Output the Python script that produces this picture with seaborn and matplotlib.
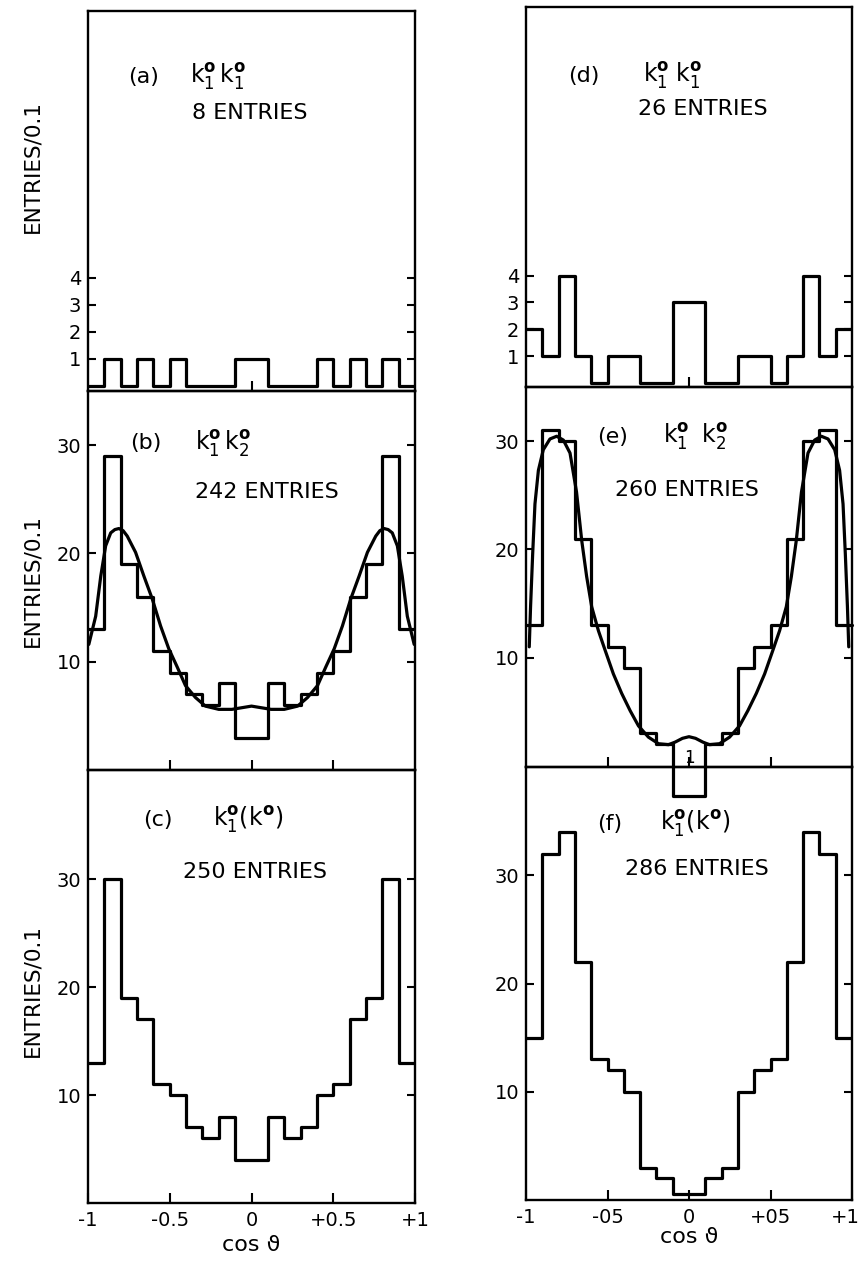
import numpy as np
import pandas as pd
import matplotlib
matplotlib.use("Agg")
import matplotlib.pyplot as plt
import matplotlib.transforms as mtransforms
import seaborn as sns

# ---------------- data ----------------
bin_edges = [round(-1.0 + 0.1 * k, 2) for k in range(21)]
bin_centers = [round(-0.95 + 0.1 * k, 2) for k in range(20)]

counts_a = [0, 1, 0, 1, 0, 1, 0, 0, 0, 1, 1, 0, 0, 0, 1, 0, 1, 0, 1, 0]
counts_b = [13, 29, 19, 16, 11, 9, 7, 6, 8, 3, 3, 8, 6, 7, 9, 11, 16, 19, 29, 13]
counts_c = [13, 30, 19, 17, 11, 10, 7, 6, 8, 4, 4, 8, 6, 7, 10, 11, 17, 19, 30, 13]
counts_d = [2, 1, 4, 1, 0, 1, 1, 0, 0, 3, 3, 0, 0, 1, 1, 0, 1, 4, 1, 2]
counts_e = [13, 31, 30, 21, 13, 11, 9, 3, 2, -2.8, -2.8, 2, 3, 9, 11, 13, 21, 30, 31, 13]
counts_f = [15, 32, 34, 22, 13, 12, 10, 3, 2, 0.6, 0.6, 2, 3, 10, 12, 13, 22, 34, 32, 15]

fit_b_x = [-0.995, -0.953, -0.922, -0.892, -0.861, -0.836, -0.811, -0.785, -0.760,
           -0.709, -0.658, -0.607, -0.556, -0.506, -0.454, -0.404, -0.343, -0.282,
           -0.20, -0.12, -0.04, 0.0, 0.04, 0.12, 0.20, 0.282, 0.343, 0.404, 0.454,
           0.506, 0.556, 0.607, 0.658, 0.709, 0.760, 0.785, 0.811, 0.836, 0.861,
           0.892, 0.922, 0.953, 0.995]
fit_b_y = [11.6, 14.2, 17.9, 20.7, 21.9, 22.2, 22.3, 22.1, 21.6,
           20.1, 17.9, 15.8, 13.3, 11.2, 9.5, 7.8, 6.7, 5.9,
           5.6, 5.6, 5.8, 5.9, 5.8, 5.6, 5.6, 5.9, 6.7, 7.8, 9.5,
           11.2, 13.3, 15.8, 17.9, 20.1, 21.6, 22.1, 22.3, 22.2, 21.9,
           20.7, 17.9, 14.2, 11.6]

fit_e_x = [-0.980, -0.972, -0.959, -0.945, -0.924, -0.894, -0.853, -0.812, -0.771,
           -0.730, -0.690, -0.658, -0.628, -0.597, -0.556, -0.515, -0.464, -0.413,
           -0.361, -0.310, -0.249, -0.187, -0.126, -0.085, -0.040, 0.0,
           0.040, 0.085, 0.126, 0.187, 0.249, 0.310, 0.361, 0.413, 0.464, 0.515,
           0.556, 0.597, 0.628, 0.658, 0.690, 0.730, 0.771, 0.812, 0.853, 0.894,
           0.924, 0.945, 0.959, 0.972, 0.980]
fit_e_y = [11.0, 14.7, 19.6, 24.2, 27.3, 29.2, 30.2, 30.45, 30.1,
           28.9, 25.3, 20.8, 17.5, 14.7, 12.5, 10.7, 8.5, 6.7,
           5.1, 3.7, 2.66, 2.05, 1.96, 2.2, 2.55, 2.7,
           2.55, 2.2, 1.96, 2.05, 2.66, 3.7, 5.1, 6.7, 8.5, 10.7,
           12.5, 14.7, 17.5, 20.8, 25.3, 28.9, 30.1, 30.45, 30.2, 29.2,
           27.3, 24.2, 19.6, 14.7, 11.0]

panel_tags = ["(a)", "(b)", "(c)", "(d)", "(e)", "(f)"]
panel_states = [r"$\mathrm{k}_{1}^{\mathbf{o}}\,\mathrm{k}_{1}^{\mathbf{o}}$",
                r"$\mathrm{k}_{1}^{\mathbf{o}}\,\mathrm{k}_{2}^{\mathbf{o}}$",
                r"$\mathrm{k}_{1}^{\mathbf{o}}(\mathrm{k}^{\mathbf{o}})$",
                r"$\mathrm{k}_{1}^{\mathbf{o}}\;\mathrm{k}_{1}^{\mathbf{o}}$",
                r"$\mathrm{k}_{1}^{\mathbf{o}}\;\;\mathrm{k}_{2}^{\mathbf{o}}$",
                r"$\mathrm{k}_{1}^{\mathbf{o}}(\mathrm{k}^{\mathbf{o}})$"]
panel_entries = ["8 ENTRIES", "242 ENTRIES", "250 ENTRIES",
                 "26 ENTRIES", "260 ENTRIES", "286 ENTRIES"]

x_ticklabels_left = ["-1", "-0.5", "0", "+0.5", "+1"]
x_ticklabels_right = ["-1", "-05", "0", "+05", "+1"]
small_ticks = [1, 2, 3, 4]
big_ticks = [10, 20, 30]

# ---------------- style ----------------
sns.set_theme(style="white")
plt.rcParams["font.family"] = ["DejaVu Sans"]
plt.rcParams["mathtext.fontset"] = "dejavusans"
plt.rcParams["text.color"] = "black"
plt.rcParams["axes.labelcolor"] = "black"

fig = plt.figure(figsize=(8.61, 12.69), dpi=100)
W, H = 861.0, 1269.0


def add_ax(left, right, top, bottom):
    ax = fig.add_axes([left / W, 1 - bottom / H, (right - left) / W, (bottom - top) / H])
    ax.set_facecolor("none")
    return ax


ax_a = add_ax(88, 415, 11, 391)
ax_b = add_ax(88, 415, 391, 770)
ax_c = add_ax(88, 415, 770, 1203)
ax_d = add_ax(526, 852, 7, 387)
ax_e = add_ax(526, 852, 387, 767)
ax_f = add_ax(526, 852, 767, 1200)
axes = [ax_a, ax_b, ax_c, ax_d, ax_e, ax_f]

counts_all = [counts_a, counts_b, counts_c, counts_d, counts_e, counts_f]
ylims = [(-0.19, 13.9), (0, 35.0), (0, 40.1), (-0.15, 14.0), (-0.1, 35.0), (0, 40.0)]

# text positions in axes fraction: (tag x, state x, y baseline, entries x, entries y)
text_pos = [(0.122, 0.312, 0.811, 0.318, 0.716),
            (0.128, 0.327, 0.846, 0.327, 0.717),
            (0.169, 0.383, 0.871, 0.291, 0.750),
            (0.130, 0.360, 0.803, 0.345, 0.716),
            (0.217, 0.421, 0.852, 0.273, 0.713),
            (0.217, 0.411, 0.855, 0.304, 0.751)]

for i, ax in enumerate(axes):
    df = pd.DataFrame({"x": bin_centers, "w": counts_all[i]})
    sns.histplot(data=df, x="x", weights="w", bins=bin_edges, element="step",
                 fill=False, color="black", linewidth=2.3, ax=ax)
    ax.set_xlim(-1, 1)
    ax.set_ylim(*ylims[i])
    for sp in ax.spines.values():
        sp.set_visible(True)
        sp.set_color("black")
        sp.set_linewidth(1.7)
    ax.tick_params(axis="both", direction="in", color="black", width=1.5,
                   labelsize=14, labelcolor="black")
    ax.tick_params(axis="y", length=6, left=True, right=True, pad=5)
    ax.tick_params(axis="x", length=7, bottom=True, top=False, pad=6)
    ax.set_xlabel("")
    ax.set_ylabel("")
    tx, sx, ty, ex, ey = text_pos[i]
    ax.text(tx, ty, panel_tags[i], transform=ax.transAxes, fontsize=16, va="baseline")
    ax.text(sx, ty, panel_states[i], transform=ax.transAxes, fontsize=17, va="baseline")
    ax.text(ex, ey, panel_entries[i], transform=ax.transAxes, fontsize=16, va="baseline")

# fit curves
sns.lineplot(x=fit_b_x, y=fit_b_y, ax=ax_b, color="black", linewidth=2.3,
             estimator=None, sort=False)
sns.lineplot(x=fit_e_x, y=fit_e_y, ax=ax_e, color="black", linewidth=2.3,
             estimator=None, sort=False)

# histogram of (e) runs below its frame, as in the reference
for ln in ax_e.lines:
    ln.set_clip_on(False)
ax_e.text(0, 0.75, "1", fontsize=12, ha="center", va="center")

# ticks
for ax in (ax_a, ax_d):
    ax.set_yticks(small_ticks)
    ax.set_yticklabels([str(t) for t in small_ticks])
    ax.set_xticks([0])
    ax.set_xticklabels([])
for ax in (ax_b, ax_e):
    ax.set_yticks(big_ticks)
    ax.set_yticklabels([str(t) for t in big_ticks])
    ax.set_xticks([-0.5, 0, 0.5])
    ax.set_xticklabels([])
for ax, labs in ((ax_c, x_ticklabels_left), (ax_f, x_ticklabels_right)):
    ax.set_yticks(big_ticks)
    ax.set_yticklabels([str(t) for t in big_ticks])
    ax.set_xticks([-1, -0.5, 0, 0.5, 1])
    ax.set_xticklabels(labs)

# keep the right-most "+1" inside the picture
last = ax_f.get_xticklabels()[-1]
last.set_transform(last.get_transform()
                   + mtransforms.ScaledTranslation(-7 / 100, 0, fig.dpi_scale_trans))

# axis labels
for ax, ypos in ((ax_a, 0.59), (ax_b, 0.50), (ax_c, 0.49)):
    ax.set_ylabel("ENTRIES/0.1", fontsize=15.5, color="black")
    ax.yaxis.set_label_coords(-0.14, ypos)

ax_c.set_xlabel("cos ϑ", fontsize=16, color="black")
ax_c.xaxis.set_label_coords(0.5, -0.075)
ax_f.set_xlabel("cos ϑ", fontsize=16, color="black")
ax_f.xaxis.set_label_coords(0.5, -0.062)

fig.savefig("out.png", dpi=100, facecolor="white")
